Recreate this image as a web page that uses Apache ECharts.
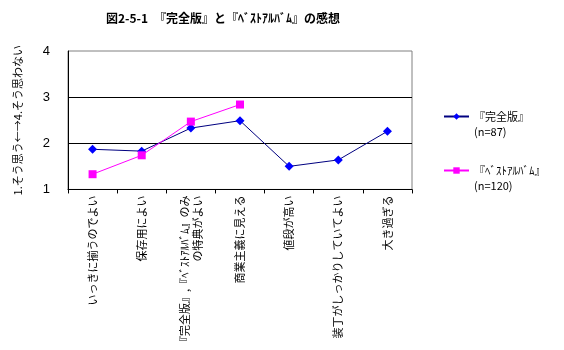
<!DOCTYPE html>
<html><head><meta charset="utf-8">
<script src="https://cdn.jsdelivr.net/npm/echarts@6/dist/echarts.min.js"></script>
<style>html,body{margin:0;padding:0;background:#fff}#c{width:564px;height:350px}</style>
</head><body><div id="c"></div>
<script>
const titleText = '図2-5-1　『完全版』と『ﾍﾞｽﾄｱﾙﾊﾞﾑ』の感想';
const yAxisTitle = '1.そう思う←→4.そう思わない';
const categories = [
  'いっきに揃うのでよい',
  '保存用によい',
  '『完全版』,『ﾍﾞｽﾄｱﾙﾊﾞﾑ』のみ\nの特典がよい',
  '商業主義に見える',
  '値段が高い',
  '装丁がしっかりしていてよい',
  '大き過ぎる'
];
const seriesNames = ['『完全版』', '『ﾍﾞｽﾄｱﾙﾊﾞﾑ』'];
const sampleSizes = ['(n=87)', '(n=120)'];
const kanzenban = [1.87, 1.83, 2.33, 2.49, 1.50, 1.64, 2.26];
const bestAlbum = [1.33, 1.74, 2.47, 2.84, null, null, null];
const yTicks = [1, 2, 3, 4];

const font = '"Noto Sans CJK JP", "Noto Sans", sans-serif';
const chart = echarts.init(document.getElementById('c'));
chart.setOption({
  animation: false,
  backgroundColor: '#fff',
  title: {
    text: titleText, left: 101, top: 7,
    textStyle: { fontFamily: font, fontSize: 12, fontWeight: 'bold', color: '#000' }
  },
  grid: { left: 68, right: 152, top: 51, bottom: 159, show: true, borderColor: '#808080', borderWidth: 1, backgroundColor: 'transparent' },
  legend: {
    orient: 'vertical', left: 443, top: 94, padding: 0, itemGap: 9,
    itemWidth: 25, itemHeight: 8,
    data: seriesNames,
    formatter: function (name) { return '\n' + name + '\n' + sampleSizes[seriesNames.indexOf(name)]; },
    textStyle: { fontFamily: font, fontSize: 11, color: '#000', lineHeight: 15 }
  },
  xAxis: {
    type: 'category', data: categories, boundaryGap: true,
    axisLine: { lineStyle: { color: '#000', width: 1 } },
    axisTick: { show: true, length: 4, lineStyle: { color: '#000' } },
    axisLabel: { rotate: 90, interval: 0, margin: 6, color: '#000', fontFamily: font, fontSize: 11, lineHeight: 13 },
    splitLine: { show: false }
  },
  yAxis: {
    type: 'value', min: 1, max: 4, interval: 1,
    name: yAxisTitle, nameLocation: 'middle', nameRotate: 90, nameGap: 45,
    nameTextStyle: { fontFamily: font, fontSize: 11, color: '#000' },
    axisLine: { show: true, lineStyle: { color: '#000', width: 1 } },
    axisTick: { show: false },
    axisLabel: { margin: 18, color: '#000', fontFamily: 'Arial, "Liberation Sans", sans-serif', fontSize: 13,
      formatter: function (v) { return yTicks.indexOf(v) >= 0 ? String(v) : ''; } },
    splitLine: { show: true, showMinLine: false, showMaxLine: false, lineStyle: { color: '#000', width: 1 } }
  },
  series: [
    {
      name: seriesNames[0], type: 'line', data: kanzenban,
      symbol: 'diamond', symbolSize: 9,
      lineStyle: { color: '#000080', width: 1 },
      itemStyle: { color: '#0000FF' }
    },
    {
      name: seriesNames[1], type: 'line', data: bestAlbum,
      symbol: 'rect', symbolSize: 8,
      lineStyle: { color: '#FF00FF', width: 1 },
      itemStyle: { color: '#FF00FF' }
    }
  ]
});
</script></body></html>
